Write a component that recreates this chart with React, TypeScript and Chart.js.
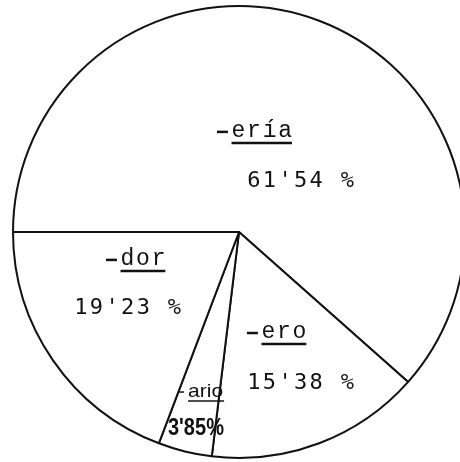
import React, { useEffect, useRef } from "react";
import { Chart, registerables } from "chart.js";

Chart.register(...registerables);

// ---- data ----
const categories = ["-ería", "-ero", "-ario", "-dor"];
const shares = [61.54, 15.38, 3.85, 19.23];
const shareLabels = ["61'54 %", "15'38 %", "3'85%", "19'23 %"];

// label placement, as fractions of the pie radius measured from the pie centre
const LABEL_LAYOUT = [
  { tx: -0.106, ty: -0.419, vx: 0.031, vy: -0.198, hand: false },
  { tx: 0.026, ty: 0.467, vx: 0.031, vy: 0.692, hand: false },
  { tx: -0.264, ty: 0.727, vx: -0.313, vy: 0.894, hand: true },
  { tx: -0.595, ty: 0.145, vx: -0.731, vy: 0.361, hand: false },
];

function drawMono(ctx: CanvasRenderingContext2D, text: string, x: number, y: number, pitch: number) {
  ctx.textAlign = "center";
  for (let i = 0; i < text.length; i++) {
    ctx.fillText(text[i], x + (i + 0.5) * pitch, y);
  }
}

function drawFitted(ctx: CanvasRenderingContext2D, text: string, x: number, y: number, width: number) {
  ctx.textAlign = "left";
  const w = ctx.measureText(text).width;
  ctx.save();
  ctx.translate(x, y);
  ctx.scale(width / w, 1);
  ctx.fillText(text, 0, 0);
  ctx.restore();
}

const labelPlugin = {
  id: "sliceLabels",
  afterDatasetsDraw(chart: any) {
    const ctx: CanvasRenderingContext2D = chart.ctx;
    const meta = chart.getDatasetMeta(0);
    ctx.save();
    ctx.fillStyle = "#111111";
    ctx.strokeStyle = "#111111";
    ctx.textBaseline = "alphabetic";
    meta.data.forEach((arc: any, i: number) => {
      const { x, y, outerRadius } = arc.getProps(["x", "y", "outerRadius"], true);
      const r = outerRadius + 1;
      const L = LABEL_LAYOUT[i];
      const k = r / 227;
      const title = categories[i];
      const tX = x + L.tx * r;
      const tY = y + L.ty * r;
      const vX = x + L.vx * r;
      const vY = y + L.vy * r;
      if (!L.hand) {
        const pitch = 15.6 * k;
        // typewriter dash
        ctx.lineWidth = 2.5;
        ctx.beginPath();
        ctx.moveTo(tX + 2 * k, tY - 5 * k);
        ctx.lineTo(tX + 13 * k, tY - 5 * k);
        ctx.stroke();
        ctx.font = `${Math.round(23 * k)}px "Liberation Mono", monospace`;
        drawMono(ctx, title.slice(1), tX + pitch, tY, pitch);
        ctx.beginPath();
        ctx.moveTo(tX + pitch + 1, tY + 6 * k);
        ctx.lineTo(tX + title.length * pitch - 1, tY + 6 * k);
        ctx.stroke();
        ctx.font = `${Math.round(22 * k)}px "DejaVu Sans Mono", monospace`;
        drawMono(ctx, shareLabels[i], vX, vY, pitch);
      } else {
        // short hand-written dash, then the word
        ctx.lineWidth = 1.5;
        ctx.beginPath();
        ctx.moveTo(tX, tY - 5 * k);
        ctx.lineTo(tX + 5 * k, tY - 5 * k);
        ctx.stroke();
        ctx.font = `${Math.round(19 * k)}px "Liberation Sans", sans-serif`;
        drawFitted(ctx, title.slice(1), tX + 9 * k, tY, 35 * k);
        ctx.beginPath();
        ctx.moveTo(tX + 9 * k, tY + 4 * k);
        ctx.lineTo(tX + 45 * k, tY + 4 * k);
        ctx.stroke();
        ctx.font = `bold ${Math.round(23 * k)}px "Liberation Sans", sans-serif`;
        drawFitted(ctx, shareLabels[i], vX, vY, 56 * k);
      }
    });
    ctx.restore();
  },
};

export default function App() {
  const ref = useRef<HTMLCanvasElement | null>(null);
  useEffect(() => {
    if (!ref.current) return;
    const chart = new Chart(ref.current, {
      type: "pie",
      data: {
        labels: categories,
        datasets: [
          {
            data: shares,
            backgroundColor: "#ffffff",
            borderColor: "#111111",
            borderWidth: 2,
            hoverOffset: 0,
          },
        ],
      },
      options: {
        responsive: false,
        animation: false,
        rotation: 270,
        layout: { padding: 5 },
        plugins: {
          legend: { display: false },
          tooltip: { enabled: false },
        },
        events: [],
      },
      plugins: [labelPlugin],
    });
    return () => chart.destroy();
  }, []);
  return (
    <div
      style={{
        position: "fixed",
        left: 0,
        top: 0,
        width: 460,
        height: 462,
        overflow: "hidden",
        background: "#ffffff",
      }}
    >
      <canvas ref={ref} width={478} height={464} style={{ display: "block" }} />
    </div>
  );
}
